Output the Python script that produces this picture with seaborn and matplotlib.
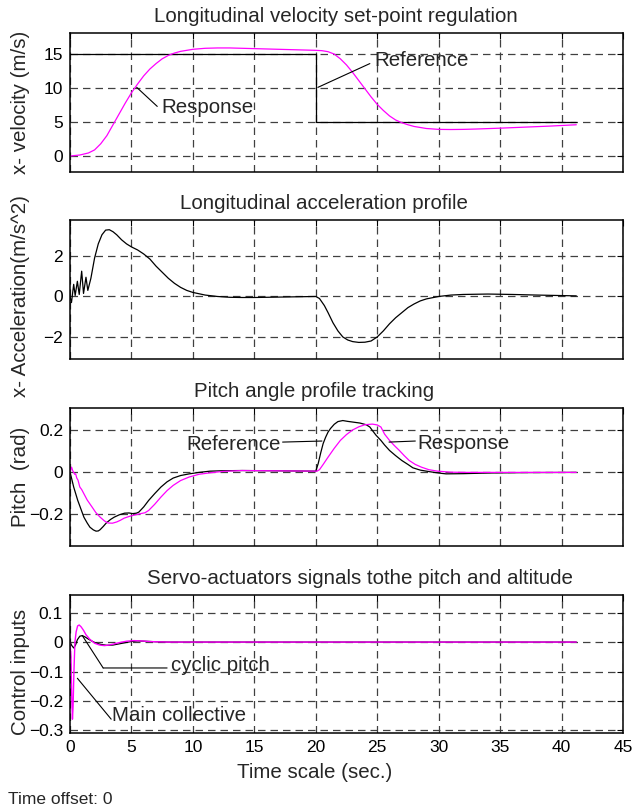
import matplotlib
matplotlib.use("Agg")
import matplotlib.pyplot as plt
import pandas as pd
import seaborn as sns

# ---- longitudinal velocity (m/s) ----
t_vel_ref = [0, 20, 20, 41.2]
vel_ref = [15, 15, 5, 5]
t_vel = [0, 0.8, 1.5, 2.0, 2.5, 3.0, 3.5, 4.0, 4.5, 5.0, 5.5, 6.0, 6.5, 7.0, 7.5, 8.0,
         8.5, 9.0, 10, 11, 12, 13, 14, 15, 16, 17, 18, 19, 20, 20.5, 21, 21.5, 22, 22.5,
         23, 23.5, 24, 24.5, 25, 25.5, 26, 26.5, 27, 27.5, 28, 29, 30, 31, 32, 33, 35,
         37, 39, 41.2]
vel = [0, 0.15, 0.45, 0.9, 1.8, 3.0, 4.6, 6.2, 7.8, 9.3, 10.6, 11.8, 12.8, 13.6, 14.3,
       14.8, 15.15, 15.4, 15.7, 15.85, 15.9, 15.9, 15.85, 15.8, 15.75, 15.7, 15.65, 15.6,
       15.55, 15.5, 15.35, 15.0, 14.3, 13.4, 12.3, 11.1, 9.9, 8.7, 7.6, 6.7, 5.9, 5.3,
       4.9, 4.6, 4.35, 4.05, 3.92, 3.9, 3.92, 3.97, 4.1, 4.25, 4.4, 4.6]

# ---- longitudinal acceleration (m/s^2) ----
t_acc = [0, 0.12, 0.3, 0.42, 0.6, 0.75, 0.95, 1.1, 1.3, 1.45, 1.7, 2.0, 2.3, 2.6, 2.9,
         3.2, 3.5, 3.8, 4.2, 4.6, 5.0, 5.5, 6.0, 6.5, 7.0, 7.5, 8.0, 8.5, 9.0, 9.5, 10,
         11, 12, 13, 14, 15, 16, 17, 18, 19, 20, 20.3, 20.7, 21, 21.4, 21.8, 22.2, 22.6,
         23, 23.5, 24, 24.5, 25, 25.5, 26, 26.5, 27, 27.5, 28, 28.5, 29, 30, 31, 32, 34,
         36, 38, 41.2]
acc = [0, -0.3, 0.6, 0.05, 0.75, 0.1, 1.25, 0.15, 0.95, 0.3, 0.9, 1.9, 2.6, 3.05, 3.28,
       3.3, 3.2, 3.05, 2.8, 2.6, 2.45, 2.3, 2.1, 1.85, 1.5, 1.2, 0.9, 0.65, 0.45, 0.3,
       0.2, 0.07, 0.0, -0.04, -0.05, -0.05, -0.04, -0.03, -0.02, -0.01, 0.0, -0.1, -0.45,
       -0.8, -1.3, -1.7, -2.0, -2.15, -2.23, -2.27, -2.26, -2.2, -2.0, -1.7, -1.35, -1.05,
       -0.8, -0.55, -0.37, -0.22, -0.12, 0.0, 0.07, 0.1, 0.12, 0.1, 0.07, 0.03]

# ---- pitch angle (rad) ----
t_pitch_ref = [0, 0.3, 0.63, 0.9, 1.13, 1.4, 1.62, 1.9, 2.12, 2.3, 2.45, 2.7, 2.95, 3.3,
               3.6, 4.0, 4.44, 4.8, 5.1, 5.4, 5.6, 6.0, 6.4, 6.9, 7.4, 7.9, 8.4, 9.0,
               9.7, 10.5, 11.4, 12.5, 14, 16, 18, 20.0, 20.2, 20.4, 20.6, 20.8, 21.0,
               21.2, 21.5, 21.8, 22.2, 22.6, 23.1, 23.6, 24.1, 24.4, 24.6, 24.9, 25.3,
               25.6, 26.0, 26.5, 27.0, 27.5, 27.9, 28.5, 29.3, 30.0, 30.6, 32, 34, 37, 41.2]
pitch_ref = [0, -0.073, -0.137, -0.18, -0.217, -0.245, -0.265, -0.278, -0.284, -0.283,
             -0.277, -0.262, -0.245, -0.228, -0.217, -0.206, -0.198, -0.197, -0.2,
             -0.198, -0.193, -0.168, -0.137, -0.104, -0.073, -0.048, -0.03, -0.018,
             -0.01, -0.003, 0.003, 0.005, 0.006, 0.005, 0.004, 0.003, 0.04, 0.09, 0.135,
             0.165, 0.19, 0.207, 0.227, 0.24, 0.245, 0.241, 0.237, 0.233, 0.225, 0.214,
             0.198, 0.175, 0.15, 0.128, 0.102, 0.077, 0.054, 0.035, 0.019, 0.008, 0.0,
             -0.006, -0.01, -0.009, -0.006, -0.004, -0.003]
t_pitch = [0, 0.13, 0.22, 0.3, 0.38, 0.46, 0.55, 0.65, 0.8, 0.95, 1.13, 1.4, 1.8, 2.1,
           2.45, 2.8, 3.1, 3.45, 3.8, 4.1, 4.4, 4.8, 5.1, 5.4, 5.76, 6.1, 6.4, 6.9, 7.4,
           7.9, 8.4, 9.0, 9.7, 10.5, 11.4, 12.5, 14, 16, 18, 20.1, 20.3, 20.6, 21.0,
           21.5, 22.0, 22.5, 23.0, 23.5, 24.0, 24.6, 25.0, 25.3, 25.6, 26.0, 26.4, 26.8,
           27.2, 27.6, 28.1, 28.6, 29.2, 29.9, 31, 32.3, 35, 38, 41.2]
pitch = [0, 0.022, 0.005, -0.003, -0.012, -0.01, -0.03, -0.04, -0.073, -0.085, -0.105,
         -0.135, -0.169, -0.195, -0.217, -0.235, -0.245, -0.246, -0.24, -0.232, -0.222,
         -0.214, -0.209, -0.205, -0.2, -0.196, -0.185, -0.155, -0.121, -0.09, -0.065,
         -0.042, -0.025, -0.012, -0.005, 0.002, 0.006, 0.005, 0.004, 0.003, 0.01, 0.035,
         0.07, 0.112, 0.15, 0.178, 0.2, 0.215, 0.225, 0.228, 0.224, 0.214, 0.18, 0.15,
         0.125, 0.102, 0.077, 0.054, 0.035, 0.022, 0.01, 0.003, -0.002, -0.003, -0.003,
         -0.003, -0.003]

# ---- servo-actuator commands ----
t_coll = [0, 0.08, 0.15, 0.2, 0.25, 0.32, 0.4, 0.5, 0.62, 0.75, 0.9, 1.1, 1.3, 1.6, 2.0,
          2.4, 2.8, 3.2, 3.6, 4.0, 4.6, 5.2, 5.8, 6.4, 7.0, 8.0, 10, 41.2]
coll = [0, -0.05, -0.2, -0.262, -0.22, -0.1, 0.0, 0.035, 0.055, 0.058, 0.052, 0.04,
        0.025, 0.01, -0.004, -0.01, -0.012, -0.01, -0.006, -0.002, 0.003, 0.005, 0.004,
        0.002, 0.001, 0.0, 0.0, 0.0]
t_cyc = [0, 0.15, 0.3, 0.45, 0.6, 0.8, 1.0, 1.2, 1.5, 1.8, 2.1, 2.5, 3.0, 3.5, 4.0, 4.5,
         5.0, 5.5, 6.0, 7, 8, 10, 41.2]
cyc = [0, -0.012, -0.02, -0.01, 0.008, 0.02, 0.022, 0.018, 0.01, 0.003, -0.003, -0.008,
       -0.011, -0.01, -0.006, -0.002, 0.002, 0.004, 0.003, 0.001, 0.0, 0.0, 0.0]

x_ticks = [0, 5, 10, 15, 20, 25, 30, 35, 40, 45]
vel_ticks, vel_labels = [0, 5, 10, 15], ['0', '5', '10', '15']
acc_ticks, acc_labels = [-2, 0, 2], ['\u22122', '0', '2']
pitch_ticks, pitch_labels = [-0.2, 0, 0.2], ['\u22120.2', '0', '0.2']
ctrl_ticks = [-0.3, -0.2, -0.1, 0, 0.1]
ctrl_labels = ['\u22120.3', '\u22120.2', '\u22120.1', '0', '0.1']

sns.set_theme(style="white")
plt.rcParams['font.family'] = ['Liberation Sans', 'DejaVu Sans']

FS_TICK = 12.5
FS = 14.8
MAG = '#ff00ff'
W, H = 634, 809

fig = plt.figure(figsize=(W / 100, H / 100), dpi=100)
fig.patch.set_facecolor('white')


def make_axes(top, bottom):
    left, right = 70, 623
    return fig.add_axes([left / W, 1 - bottom / H, (right - left) / W, (bottom - top) / H])


def style(ax, ylim, yticks, ylabels, title, title_x, ylabel, ylabel_y=0.5, bottom=False):
    ax.set_xlim(0, 45)
    ax.set_ylim(*ylim)
    ax.set_xticks(x_ticks)
    ax.set_yticks(yticks)
    ax.set_yticklabels(ylabels)
    ax.set_axisbelow(True)
    ax.grid(True, color='#404040', linestyle=(0, (6, 4)), linewidth=0.9)
    for sp in ax.spines.values():
        sp.set_visible(True)
        sp.set_color('black')
        sp.set_linewidth(1.1)
    ax.tick_params(direction='in', length=4, width=0.8, colors='black',
                   top=True, right=True, labelsize=FS_TICK, pad=5,
                   labelbottom=bottom)
    ax.set_title(title, fontsize=FS, pad=8, x=title_x)
    ax.set_ylabel(ylabel, fontsize=FS)
    ax.yaxis.set_label_coords(-0.072, ylabel_y)
    ax.set_xlabel('')
    if ax.get_legend():
        ax.get_legend().remove()


def leader(ax, p0, p1):
    ax.annotate('', xy=p1, xytext=p0,
                arrowprops=dict(arrowstyle='-', color='black', lw=0.8,
                                shrinkA=0, shrinkB=0))


# panel 1: velocity
ax1 = make_axes(33, 172)
sns.lineplot(data=pd.DataFrame({'t': t_vel_ref, 'v': vel_ref}), x='t', y='v', ax=ax1,
             color='black', linewidth=0.9, estimator=None, sort=False)
sns.lineplot(data=pd.DataFrame({'t': t_vel, 'v': vel}), x='t', y='v', ax=ax1,
             color=MAG, linewidth=0.9, estimator=None, sort=False)
style(ax1, (-2.35, 18.1), vel_ticks, vel_labels,
      'Longitudinal velocity set-point regulation', 0.481, 'x- velocity (m/s)')
ax1.text(7.4, 7.1, 'Response', fontsize=FS, ha='left', va='center')
leader(ax1, (5.43, 10.1), (7.1, 7.3))
ax1.text(24.8, 14.0, 'Reference', fontsize=FS, ha='left', va='center')
leader(ax1, (20.17, 10.1), (24.4, 13.6))

# panel 2: acceleration
ax2 = make_axes(220, 359)
sns.lineplot(data=pd.DataFrame({'t': t_acc, 'a': acc}), x='t', y='a', ax=ax2,
             color='black', linewidth=0.9, estimator=None, sort=False)
style(ax2, (-3.09, 3.78), acc_ticks, acc_labels,
      'Longitudinal acceleration profile', 0.459, 'x- Acceleration(m/s^2)',
      ylabel_y=0.45)

# panel 3: pitch
ax3 = make_axes(408, 546)
sns.lineplot(data=pd.DataFrame({'t': t_pitch_ref, 'p': pitch_ref}), x='t', y='p',
             ax=ax3, color='black', linewidth=0.9, estimator=None, sort=False)
sns.lineplot(data=pd.DataFrame({'t': t_pitch, 'p': pitch}), x='t', y='p', ax=ax3,
             color=MAG, linewidth=0.9, estimator=None, sort=False)
style(ax3, (-0.355, 0.305), pitch_ticks, pitch_labels,
      'Pitch angle profile tracking', 0.441, 'Pitch  (rad)')
ax3.text(9.5, 0.131, 'Reference', fontsize=FS, ha='left', va='center')
leader(ax3, (17.3, 0.142), (20.5, 0.147))
ax3.text(28.3, 0.134, 'Response', fontsize=FS, ha='left', va='center')
leader(ax3, (25.96, 0.142), (28.1, 0.147))

# panel 4: control inputs
ax4 = make_axes(595, 733)
sns.lineplot(data=pd.DataFrame({'t': t_cyc, 'u': cyc}), x='t', y='u', ax=ax4,
             color='black', linewidth=0.9, estimator=None, sort=False)
sns.lineplot(data=pd.DataFrame({'t': t_coll, 'u': coll}), x='t', y='u', ax=ax4,
             color=MAG, linewidth=1.0, estimator=None, sort=False)
style(ax4, (-0.309, 0.16), ctrl_ticks, ctrl_labels,
      'Servo-actuators signals tothe pitch and altitude', 0.524, 'Control inputs',
      ylabel_y=0.44, bottom=True)
ax4.set_xticklabels([str(v) for v in x_ticks])
ax4.set_xlabel('Time scale (sec.)', fontsize=FS)
ax4.xaxis.set_label_coords(0.443, -(773 - 733) / 138)
ax4.xaxis.label.set_verticalalignment('center')
ax4.text(8.2, -0.08, 'cyclic pitch', fontsize=FS, ha='left', va='center')
leader(ax4, (7.9, -0.088), (2.7, -0.088))
leader(ax4, (2.7, -0.088), (1.0, 0.022))
ax4.text(3.4, -0.249, 'Main collective', fontsize=FS, ha='left', va='center')
leader(ax4, (0.6, -0.123), (3.35, -0.262))

fig.text(8 / W, 1 - 799 / H, 'Time offset: 0', fontsize=FS_TICK, ha='left', va='center')

fig.savefig('out.png', dpi=100, facecolor='white')
